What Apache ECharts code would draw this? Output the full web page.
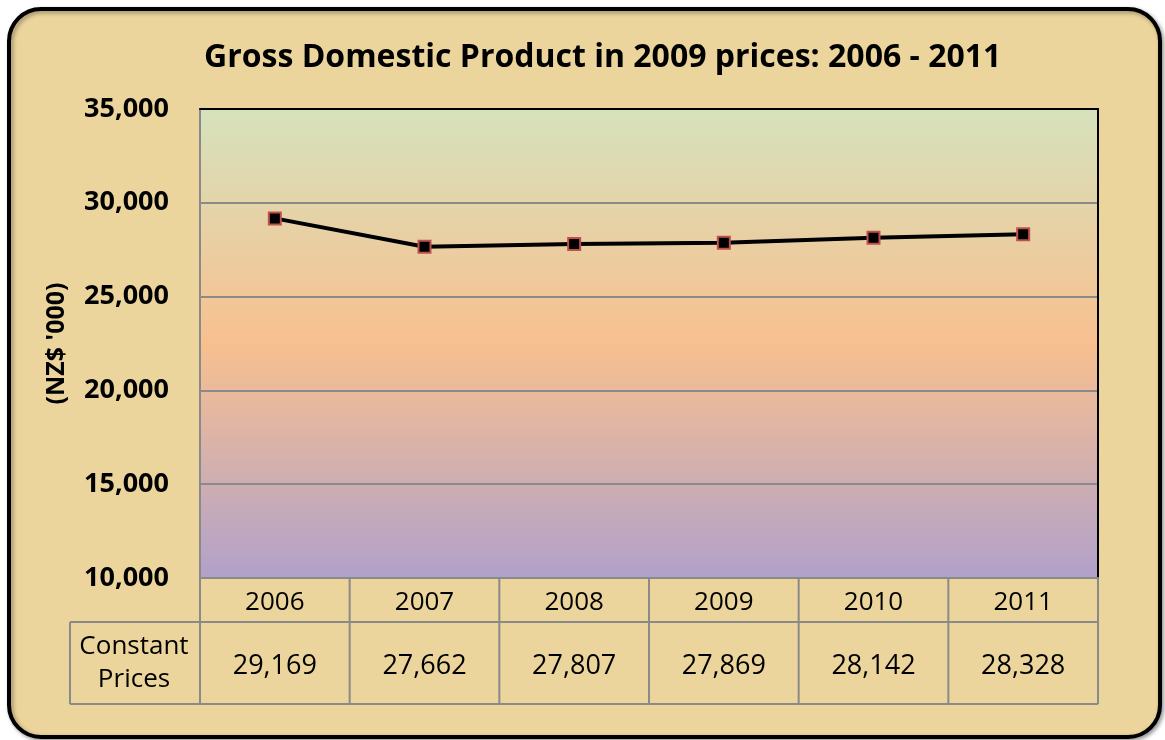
<!DOCTYPE html>
<html>
<head>
<meta charset="utf-8">
<script src="https://cdn.jsdelivr.net/npm/echarts@6/dist/echarts.min.js"></script>
<style>
html,body{margin:0;padding:0;background:#fff;}
#chart{width:1165px;height:740px;}
</style>
</head>
<body>
<div id="chart"></div>
<script>
var years = ['2006', '2007', '2008', '2009', '2010', '2011'];
var constPrices = [29169, 27662, 27807, 27869, 28142, 28328];
var rowLabel = 'Constant\nPrices';

var font = '"Open Sans", sans-serif';
var gridLeft = 200, gridTop = 109, gridW = 898, gridH = 469;
var colW = gridW / years.length;
var rowTop = gridTop + gridH, row1 = 44, row2 = 82;

function fmt(v){
    return String(v).replace(/\B(?=(\d{3})+(?!\d))/g, ',');
}

var myChart = echarts.init(document.getElementById('chart'));

// table lines
var lines = [];
var tableBottom = rowTop + row1 + row2;
lines.push({x1: 70, y1: rowTop + row1, x2: gridLeft + gridW, y2: rowTop + row1});
lines.push({x1: 70, y1: tableBottom, x2: gridLeft + gridW, y2: tableBottom});
lines.push({x1: 70, y1: rowTop + row1, x2: 70, y2: tableBottom});
for (var i = 0; i <= years.length; i++) {
    lines.push({x1: gridLeft + i * colW, y1: rowTop, x2: gridLeft + i * colW, y2: tableBottom});
}
var graphics = [{
    type: 'rect',
    z: -10,
    shape: {x: 9, y: 9, width: 1151, height: 728, r: 32},
    style: {fill: '#ebd59c', stroke: '#000', lineWidth: 4, shadowBlur: 4, shadowColor: 'rgba(0,0,0,0.35)', shadowOffsetX: 2, shadowOffsetY: 2}
}];
lines.forEach(function(l){
    graphics.push({type: 'line', z: 5, shape: l, style: {stroke: '#8a8a8a', lineWidth: 2}});
});
graphics.push({
    type: 'text', z: 5,
    x: 134, y: rowTop + row1 + row2 / 2,
    style: {text: rowLabel, font: '26px ' + font, fill: '#000', align: 'center', verticalAlign: 'middle', lineHeight: 33}
});

var option = {
    backgroundColor: '#fff',
    title: {
        text: 'Gross Domestic Product in 2009 prices: 2006 - 2011',
        left: 199,
        top: 37,
        textStyle: {fontFamily: font, fontSize: 32, fontWeight: 'bold', color: '#000'}
    },
    grid: {
        left: gridLeft, top: gridTop, width: gridW, height: gridH,
        show: true,
        backgroundColor: new echarts.graphic.LinearGradient(0, 0, 0, 1, [
            {offset: 0, color: '#d6e2bc'},
            {offset: 0.5, color: '#f8c08f'},
            {offset: 1, color: '#b1a1ca'}
        ]),
        borderWidth: 0
    },
    graphic: graphics,
    xAxis: [{
        type: 'category',
        data: years,
        boundaryGap: true,
        axisLine: {show: true, lineStyle: {color: '#8a8a8a', width: 2}},
        axisTick: {show: false},
        axisLabel: {margin: 12, fontFamily: font, fontSize: 26, color: '#000'}
    }, {
        type: 'category',
        data: years,
        position: 'top',
        boundaryGap: true,
        axisLine: {show: true, lineStyle: {color: '#000', width: 2}},
        axisTick: {show: false},
        axisLabel: {show: false}
    }, {
        type: 'category',
        data: years,
        position: 'bottom',
        offset: row1 + row2 / 2 - 18,
        boundaryGap: true,
        axisLine: {show: false},
        axisTick: {show: false},
        axisLabel: {
            fontFamily: font, fontSize: 27, color: '#000',
            formatter: function(v, idx){ return fmt(constPrices[idx]); }
        }
    }],
    yAxis: [{
        type: 'value',
        min: 10000,
        max: 35000,
        interval: 5000,
        name: "(NZ$ '000)",
        nameLocation: 'middle',
        nameGap: 131,
        nameRotate: 90,
        nameTextStyle: {fontFamily: font, fontSize: 25, fontWeight: 'bold', color: '#000'},
        axisLine: {show: true, lineStyle: {color: '#8a8a8a', width: 2}},
        axisTick: {show: false},
        axisLabel: {margin: 31, fontFamily: font, fontSize: 27, fontWeight: 'bold', color: '#000', formatter: fmt},
        splitLine: {lineStyle: {color: '#8a8a8a', width: 2}}
    }, {
        type: 'value',
        min: 10000,
        max: 35000,
        interval: 5000,
        position: 'right',
        axisLine: {show: true, lineStyle: {color: '#000', width: 2}},
        axisTick: {show: false},
        axisLabel: {show: false},
        splitLine: {show: false}
    }],
    series: [{
        name: 'Constant Prices',
        type: 'line',
        data: constPrices,
        symbol: 'rect',
        symbolSize: 12,
        lineStyle: {color: '#000', width: 4},
        itemStyle: {color: '#000', borderColor: '#c0504d', borderWidth: 2},
        z: 10
    }]
};
myChart.setOption(option);
</script>
</body>
</html>
